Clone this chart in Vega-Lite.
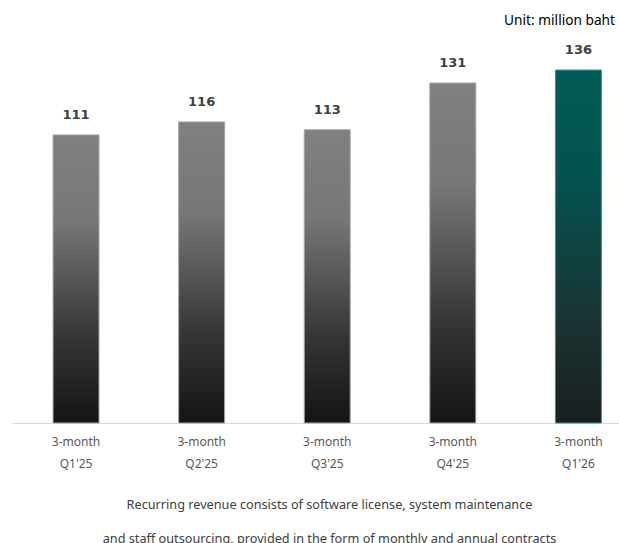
{
  "$schema": "https://vega.github.io/schema/vega-lite/v6.json",
  "width": 607,
  "height": 388,
  "padding": {"left": 12, "top": 35, "right": 0, "bottom": 120},
  "autosize": {"type": "none"},
  "background": "white",
  "config": {"view": {"stroke": null}, "font": "Noto Sans"},
  "title": {
    "text": "Unit: million baht",
    "anchor": "end",
    "orient": "top",
    "font": "Noto Sans",
    "fontSize": 13.7,
    "fontWeight": "normal",
    "color": "#000000",
    "offset": -7,
    "dx": -4,
    "baseline": "bottom"
  },
  "data": {
    "values": [
      {"q": "Q1'25", "v": 111, "hl": false},
      {"q": "Q2'25", "v": 116, "hl": false},
      {"q": "Q3'25", "v": 113, "hl": false},
      {"q": "Q4'25", "v": 131, "hl": false},
      {"q": "Q1'26", "v": 136, "hl": true}
    ]
  },
  "encoding": {
    "x": {
      "field": "q",
      "type": "nominal",
      "sort": null,
      "scale": {"paddingInner": 0.634, "paddingOuter": 0.2335, "align": 0.7},
      "axis": {
        "labelAngle": 0,
        "labelExpr": "['3-month', datum.value]",
        "labelLineHeight": 22,
        "labelFont": "Noto Sans",
        "labelFontSize": 12,
        "labelColor": "#595959",
        "labelPadding": 13,
        "ticks": false,
        "domainColor": "#d9d9d9",
        "domainWidth": 1,
        "title": ["Recurring revenue consists of software license, system maintenance", "and staff outsourcing, provided in the form of monthly and annual contracts"],
        "titleFont": "Noto Sans",
        "titleFontSize": 12.7,
        "titleFontWeight": "normal",
        "titleColor": "#404040",
        "titleLineHeight": 34,
        "titlePadding": 29,
        "titleX": 317
      }
    },
    "y": {
      "field": "v",
      "type": "quantitative",
      "scale": {"domain": [0, 149.5], "nice": false, "zero": true},
      "axis": null
    }
  },
  "layer": [
    {
      "transform": [{"filter": "!datum.hl"}],
      "mark": {
        "type": "bar",
        "stroke": "#a6a6a6",
        "strokeWidth": 1,
        "color": {
          "gradient": "linear",
          "x1": 0, "y1": 0, "x2": 0, "y2": 1,
          "stops": [
            {"offset": 0, "color": "#808080"},
            {"offset": 0.3, "color": "#777777"},
            {"offset": 0.7, "color": "#363636"},
            {"offset": 1, "color": "#141414"}
          ]
        }
      }
    },
    {
      "transform": [{"filter": "datum.hl"}],
      "mark": {
        "type": "bar",
        "stroke": "#2a9a94",
        "strokeWidth": 1,
        "color": {
          "gradient": "linear",
          "x1": 0, "y1": 0, "x2": 0, "y2": 1,
          "stops": [
            {"offset": 0, "color": "#015a57"},
            {"offset": 0.3, "color": "#035350"},
            {"offset": 0.7, "color": "#1a3534"},
            {"offset": 1, "color": "#1b1e1f"}
          ]
        }
      }
    },
    {
      "mark": {
        "type": "text",
        "dy": -20,
        "font": "DejaVu Sans",
        "fontSize": 13,
        "fontWeight": "bold",
        "color": "#404040"
      },
      "encoding": {"text": {"field": "v", "type": "quantitative"}}
    }
  ]
}
